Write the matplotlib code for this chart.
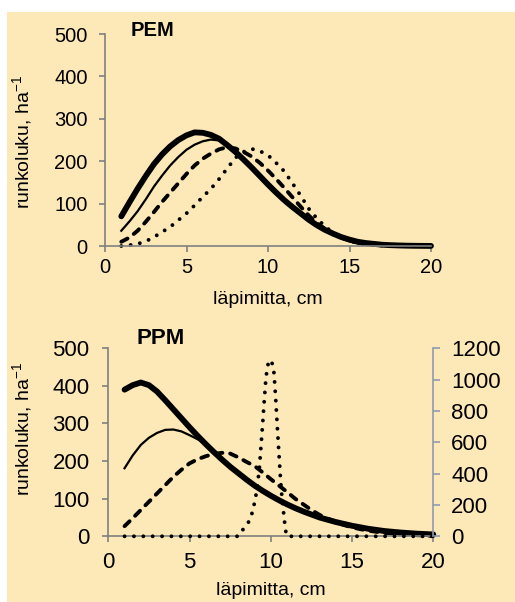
import numpy as np
import matplotlib.pyplot as plt
from matplotlib.patches import Rectangle

plt.rcParams['font.family'] = ['Liberation Sans', 'DejaVu Sans']

# diameters (cm), 0.5 cm steps
d = np.arange(1, 20.5, 0.5)

# PEM panel (stems per ha)
pem_thick = [70, 103, 135, 165, 193, 216, 235, 250, 261, 268, 267, 262, 253, 238,
             222, 204, 185, 165, 145, 126, 108, 92, 77, 62, 49, 38, 29, 21, 15, 10,
             7, 5, 3, 2, 1.3, 0.8, 0.5, 0.3, 0.2]
pem_thin = [36, 58, 82, 110, 140, 166, 190, 210, 227, 239, 247, 251, 249, 240,
            225, 207, 187, 166, 145, 125, 107, 90, 74, 60, 47, 36, 27, 20, 14, 10,
            7, 4.5, 3, 2, 1.2, 0.7, 0.4, 0.2, 0.1]
pem_dash = [10, 20, 36, 57, 80, 104, 126, 148, 170, 190, 206, 218, 228, 233,
            230, 222, 211, 196, 178, 158, 137, 115, 93, 72, 54, 40, 29, 20, 13, 8,
            5, 3, 2, 1.2, 0.7, 0.4, 0.2, 0.1, 0]
pem_dot = [0, 2, 5, 11, 21, 33, 45, 61, 77, 96, 116, 135, 158, 183,
           208, 222, 229, 224, 214, 196, 176, 148, 119, 88, 65, 46, 31, 20, 12, 7,
           4, 2, 1, 0.5, 0.2, 0, 0, 0, 0]

# PPM panel (stems per ha)
ppm_thick = [390, 402, 409, 402, 385, 362, 338, 314, 290, 267, 245, 224, 204, 185,
             168, 151, 135, 121, 108, 96, 85, 75, 66, 58, 50, 44, 38, 33, 28, 24,
             20, 17, 14, 12, 10, 8.5, 7, 6, 5]
ppm_thin = [181, 215, 243, 262, 275, 283, 284, 279, 269, 258, 245, 225, 205, 187,
            170, 153, 137, 122, 109, 97, 86, 76, 67, 58, 50, 43, 37, 32, 27, 23,
            19, 16, 13, 11, 9, 7.5, 6, 5, 4]
ppm_dash = [27, 48, 70, 92, 114, 136, 158, 177, 194, 205, 213, 219, 222, 220,
            210, 198, 187, 170, 152, 135, 118, 100, 85, 70, 57, 47, 38, 30, 24, 19,
            15, 12, 9, 7, 5, 4, 3, 2, 1]

# PPM dotted series on the right axis
d_dot2 = [1, 2, 3, 4, 5, 6, 7, 8.0, 8.1, 8.2, 8.3, 8.4, 8.5, 8.6, 8.7, 8.8, 8.9,
          9.0, 9.1, 9.2, 9.3, 9.4, 9.5, 9.6, 9.7, 9.8, 9.9, 10.0, 10.1, 10.2,
          10.3, 10.4, 10.5, 10.6, 10.7, 10.8, 10.9, 11.0, 12, 13, 14, 15, 16, 17,
          18, 19, 20]
ppm_dot = [0, 0, 0, 0, 0, 0, 0, 0, 15, 30, 45, 58, 72, 85, 105, 130, 170,
           215, 270, 345, 440, 580, 720, 870, 1010, 1085, 1125, 1120, 1100, 1040,
           880, 700, 530, 360, 230, 140, 40, 0, 0, 0, 0, 0, 0, 0,
           0, 0, 0]

bg = '#fde8b8'
axcol = '#808080'

fig = plt.figure(figsize=(5.15, 6.02), dpi=100)
fig.patch.set_facecolor('white')
fig.patches.append(Rectangle((7 / 515, 0), 1, 590 / 602, transform=fig.transFigure,
                             facecolor=bg, edgecolor='none', zorder=-10))


def style(ax, size, xpad, ypad):
    ax.set_facecolor('none')
    ax.spines['top'].set_visible(False)
    ax.spines['right'].set_visible(False)
    for s in ('left', 'bottom'):
        ax.spines[s].set_color(axcol)
        ax.spines[s].set_linewidth(1.2)
    ax.tick_params(axis='both', colors=axcol, length=4.5, width=1.2, labelcolor='black',
                   labelsize=size)
    ax.tick_params(axis='x', pad=xpad)
    ax.tick_params(axis='y', pad=ypad)
    ax.set_xlim(0, 20)
    ax.set_ylim(0, 500)
    ax.set_xticks([0, 5, 10, 15, 20])
    ax.set_yticks([0, 100, 200, 300, 400, 500])


def draw(ax, x, thick, thin, dash):
    ax.plot(x, thick, color='black', lw=4.2, solid_capstyle='round', clip_on=False)
    ax.plot(x, thin, color='black', lw=1.6, clip_on=False)
    ax.plot(x, dash, color='black', lw=2.8, dashes=(1.8, 2.0), dash_capstyle='round',
            clip_on=False)


# top panel: PEM
ax1 = fig.add_axes([105 / 515, 1 - 246 / 602, 326 / 515, 212 / 602])
style(ax1, 14.5, 4, 8)
draw(ax1, d, pem_thick, pem_thin, pem_dash)
ax1.plot(d, pem_dot, color='black', lw=2.8, dashes=(0.01, 2.4), dash_capstyle='round',
         clip_on=False)
ax1.set_xlabel('läpimitta, cm', fontsize=14, labelpad=10)
ax1.set_ylabel('runkoluku, ha$^{\\mathregular{-1}}$', fontsize=14)
ax1.yaxis.set_label_coords(-0.215, 0.49)
fig.text(131 / 515, 1 - 30 / 602, 'PEM', fontsize=14.5, fontweight='bold', va='center')

# bottom panel: PPM
ax2 = fig.add_axes([108.3 / 515, 1 - 536.3 / 602, 325 / 515, 188 / 602])
style(ax2, 16, 7, 9)
draw(ax2, d, ppm_thick, ppm_thin, ppm_dash)
ax2.set_xlabel('läpimitta, cm', fontsize=14, labelpad=6)
ax2.set_ylabel('runkoluku, ha$^{\\mathregular{-1}}$', fontsize=14)
ax2.yaxis.set_label_coords(-0.225, 0.57)
fig.text(137 / 515, 1 - 339 / 602, 'PPM', fontsize=16, fontweight='bold', va='center')

ax3 = ax2.twinx()
ax3.set_facecolor('none')
for s in ('top', 'left', 'bottom'):
    ax3.spines[s].set_visible(False)
ax3.spines['right'].set_color('#8e9bb0')
ax3.spines['right'].set_linewidth(1.2)
ax3.tick_params(axis='y', colors='#8e9bb0', length=5, width=1.2, labelcolor='black',
                labelsize=16, pad=8)
ax3.set_ylim(0, 1200)
ax3.set_yticks([0, 200, 400, 600, 800, 1000, 1200])
ax3.plot(d_dot2, ppm_dot, color='black', lw=2.8, dashes=(0.01, 2.4),
         dash_capstyle='round', clip_on=False)

fig.savefig('out.png', dpi=100, facecolor=fig.get_facecolor())
